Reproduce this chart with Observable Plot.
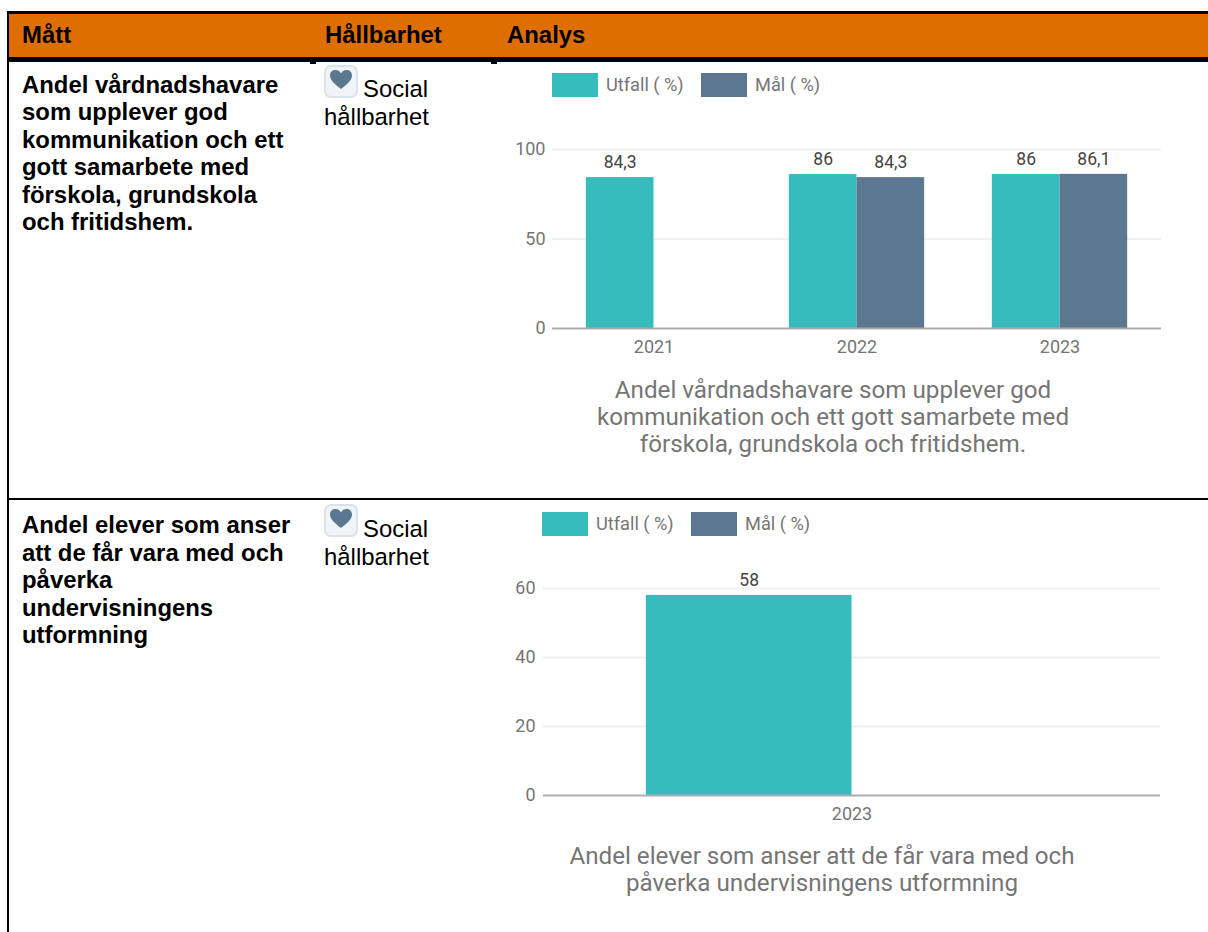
<!DOCTYPE html>
<html lang="sv">
<head>
<meta charset="utf-8">
<script src="https://cdn.jsdelivr.net/npm/d3@7"></script>
<script src="https://cdn.jsdelivr.net/npm/@observablehq/plot@0.6"></script>
<style>
html,body{margin:0;padding:0;background:#fff;overflow:hidden}
#page{position:relative;width:1208px;height:932px;overflow:hidden;font-family:"Liberation Sans",Arial,sans-serif;color:#000}
.abs{position:absolute}
.head{font-weight:700;font-size:23.9px;top:22px;line-height:26px}
.measure{font-weight:700;font-size:23.9px;line-height:27.6px;left:22px}
.sust{font-size:23.9px;line-height:28px;left:324px}
.swatch{width:46px;height:24px}
.leg{font:18.2px Roboto,sans-serif;color:#757575;line-height:24px;white-space:pre}
.cap{font:24.2px/27px Roboto,sans-serif;color:#757575;text-align:center;white-space:pre}
svg text{font-family:Roboto,sans-serif}
</style>
</head>
<body>
<div id="page"></div>
<script>
const seriesNames = ["Utfall", "Mål"];
const seriesColors = ["#36bcbc", "#5b7890"];
const legendLabels = ["Utfall ( %)", "Mål ( %)"];
const headers = ["Mått", "Hållbarhet", "Analys"];
const sustainability = ["Social", "hållbarhet"];

const years1 = ["2021", "2022", "2022", "2023", "2023"];
const series1 = ["Utfall", "Utfall", "Mål", "Utfall", "Mål"];
const values1 = [84.3, 86, 84.3, 86, 86.1];
const ticks1 = [0, 50, 100];
const title1 = "Andel vårdnadshavare som upplever god\nkommunikation och ett gott samarbete med\nförskola, grundskola och fritidshem.";
const measure1 = "Andel vårdnadshavare\nsom upplever god\nkommunikation och ett\ngott samarbete med\nförskola, grundskola\noch fritidshem.";

const years2 = ["2023"];
const series2 = ["Utfall"];
const values2 = [58];
const ticks2 = [0, 20, 40, 60];
const title2 = "Andel elever som anser att de får vara med och\npåverka undervisningens utformning";
const measure2 = "Andel elever som anser\natt de får vara med och\npåverka\nundervisningens\nutformning";

const page = document.getElementById("page");
function add(cls, style, text) {
  const d = document.createElement("div");
  d.className = "abs " + cls;
  Object.assign(d.style, style);
  if (text != null) { d.textContent = text; d.style.whiteSpace = "pre"; }
  page.appendChild(d);
  return d;
}
// table frame
add("", {left:"7px", top:"11px", width:"1201px", height:"3px", background:"#000"});
add("", {left:"8px", top:"14px", width:"1200px", height:"43px", background:"#df6e00"});
add("", {left:"7px", top:"57px", width:"1201px", height:"5px", background:"#000"});
add("", {left:"7px", top:"11px", width:"2px", height:"921px", background:"#000"});
add("", {left:"7px", top:"498px", width:"1201px", height:"2px", background:"#000"});
add("", {left:"310px", top:"62px", width:"6px", height:"2px", background:"#000"});
add("", {left:"491px", top:"62px", width:"6px", height:"2px", background:"#000"});
add("head", {left:"22px"}, headers[0]);
add("head", {left:"325px"}, headers[1]);
add("head", {left:"507px"}, headers[2]);

function heart(x, y) {
  const d = add("", {left:x+"px", top:y+"px"});
  d.innerHTML = `<svg width="34" height="33" viewBox="0 0 34 33" style="display:block">
    <rect x="1" y="1" width="32" height="31" rx="6" fill="#f0f4f7" stroke="#dbe3ea" stroke-width="2"/>
    <path d="M17 24 C12 20 6 15.5 6 10.5 C6 7 8.6 5 11.3 5 C13.8 5 15.8 6.2 17 8.4 C18.2 6.2 20.2 5 22.7 5 C25.4 5 28 7 28 10.5 C28 15.5 22 20 17 24 Z" fill="#5b7890"/>
  </svg>`;
}
heart(324, 65);
heart(324, 504);
add("sust", {left:"363px", top:"75px"}, sustainability[0]);
add("sust", {top:"103px"}, sustainability[1]);
add("sust", {left:"363px", top:"515px"}, sustainability[0]);
add("sust", {top:"543px"}, sustainability[1]);
add("measure", {top:"70.5px"}, measure1);
add("measure", {top:"511px"}, measure2);

function legend(x, y) {
  const positions = [x, x + 149];
  const textOffset = 54;
  seriesNames.forEach((s, i) => {
    add("swatch", {left:positions[i]+"px", top:y+"px", background:seriesColors[i]});
    add("leg", {left:(positions[i]+textOffset)+"px", top:(y)+"px"}, legendLabels[i]);
  });
}
legend(552, 73);
legend(542, 512);

const fmt = v => String(v).replace(".", ",");

function chart(years, series, values, ticks, yMax, opts) {
  const data = years.map((y, i) => ({year: y, series: series[i], value: values[i]}));
  const plot = Plot.plot({
    width: opts.width, height: opts.height,
    marginLeft: opts.marginLeft, marginRight: opts.marginRight,
    marginTop: opts.marginTop, marginBottom: opts.marginBottom,
    style: {background: "transparent", fontFamily: "Roboto, sans-serif", fontSize: "14px", overflow: "visible"},
    fx: {domain: [...new Set(years)], padding: 0, label: null, round: false},
    x: {domain: seriesNames, paddingInner: 0, paddingOuter: 0.5, axis: null, round: false},
    y: {domain: [0, yMax], label: null},
    color: {domain: seriesNames, range: seriesColors},
    marks: [
      Plot.ruleY(ticks.filter(t => t > 0), {stroke: "#eef1f3", strokeWidth: 2}),
      Plot.barY(data, {fx: "year", x: "series", y: "value", fill: "series", inset: 0}),
      Plot.ruleY([0], {stroke: "#adadad", strokeWidth: 2}),
      Plot.text(data, {fx: "year", x: "series", y: "value", text: d => fmt(d.value), dy: -15, fill: "#444", fontSize: 17.5}),
      Plot.axisY({ticks, tickSize: 0, tickPadding: opts.tickPadding, tickFormat: d => String(d), color: "#757575", fontSize: 18, label: null}),
      Plot.axisFx({anchor: "bottom", tickSize: 0, tickPadding: 12, color: "#757575", fontSize: 18, label: null})
    ]
  });
  const wrap = add("", {left: opts.left+"px", top: opts.top+"px"});
  wrap.appendChild(plot);
}

chart(years1, series1, values1, ticks1, 100, {
  left: 500, top: 120, width: 708, height: 240, tickPadding: 7,
  marginLeft: 52, marginRight: 47, marginTop: 29, marginBottom: 32
});
chart(years2, series2, values2, ticks2, 60, {
  left: 490, top: 560, width: 718, height: 267, tickPadding: 8,
  marginLeft: 53, marginRight: 48, marginTop: 28, marginBottom: 32
});

add("cap", {left:"533px", width:"600px", top:"377px"}, title1);
add("cap", {left:"522px", width:"600px", top:"843px"}, title2);
</script>
</body>
</html>
